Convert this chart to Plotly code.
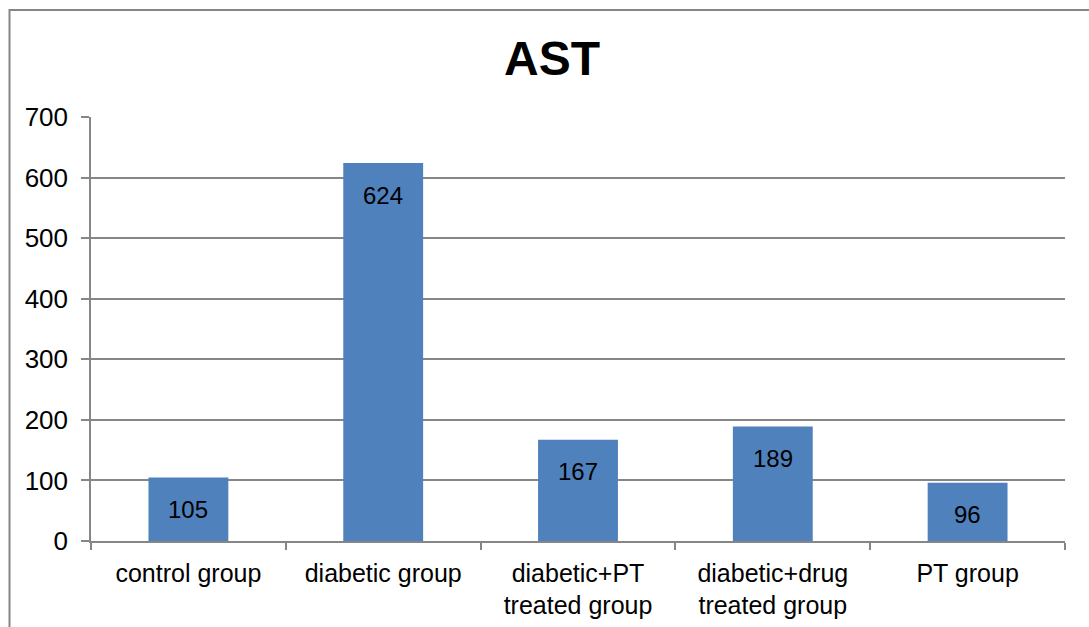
import plotly.graph_objects as go

# AST levels per experimental group
categories = ["control group", "diabetic group", "diabetic+PT<br>treated group",
              "diabetic+drug<br>treated group", "PT group"]
ast_values = [105, 624, 167, 189, 96]
y_tick_values = [0, 100, 200, 300, 400, 500, 600, 700]

W, H = 1089, 627
M_L, M_R, M_T, M_B = 91, 24, 117, 86
plot_w = W - M_L - M_R
plot_h = H - M_T - M_B

FONT = "Liberation Sans, Arial, sans-serif"
GRID = "#868686"
BAR = "#4F81BD"

fig = go.Figure(
    go.Bar(
        x=categories,
        y=ast_values,
        marker=dict(color=BAR, line=dict(width=0)),
        hoverinfo="x+y",
    )
)

# value labels placed just inside the top of each bar
for cat, val in zip(categories, ast_values):
    fig.add_annotation(
        x=cat, y=val, xref="x", yref="y",
        text=str(val), showarrow=False,
        yanchor="middle", yshift=-32,
        font=dict(family=FONT, size=24, color="black"),
    )

# outer chart frame (open on the right and bottom edges)
def px_to_paper_x(px):
    return (px - M_L) / plot_w

def px_to_paper_y(py):
    return (H - M_B - py) / plot_h

fig.add_shape(
    type="rect", xref="paper", yref="paper",
    x0=px_to_paper_x(9.5), x1=px_to_paper_x(W + 20),
    y0=px_to_paper_y(H + 20), y1=px_to_paper_y(10),
    line=dict(color=GRID, width=2), fillcolor="rgba(0,0,0,0)",
    layer="below",
)

fig.update_layout(
    width=W, height=H,
    margin=dict(l=M_L, r=M_R, t=M_T, b=M_B, pad=0),
    paper_bgcolor="white", plot_bgcolor="white",
    bargap=0.59,
    showlegend=False,
    title=dict(
        text="<b>AST</b>", x=552 / W, xref="container", xanchor="center",
        y=1 - 58 / H, yref="container", yanchor="middle",
        font=dict(family=FONT, size=48, color="black"),
    ),
    font=dict(family=FONT, size=26, color="black"),
)

fig.update_xaxes(
    type="category", automargin=False,
    showline=True, linecolor=GRID, linewidth=1.5,
    ticks="outside", tickson="boundaries", ticklen=7, tickwidth=1.5, tickcolor=GRID,
    showgrid=False,
    tickfont=dict(family=FONT, size=25, color="black"),
    ticklabelstandoff=9,
)
fig.update_yaxes(
    range=[0, 700], tickvals=y_tick_values, automargin=False,
    showline=True, linecolor=GRID, linewidth=1.5,
    ticks="outside", ticklen=8, tickwidth=1.5, tickcolor=GRID,
    showgrid=True, gridcolor=GRID, gridwidth=1.5,
    zeroline=False,
    tickfont=dict(family=FONT, size=26, color="black"),
    ticklabelstandoff=8,
)

fig.write_html("out.html")
